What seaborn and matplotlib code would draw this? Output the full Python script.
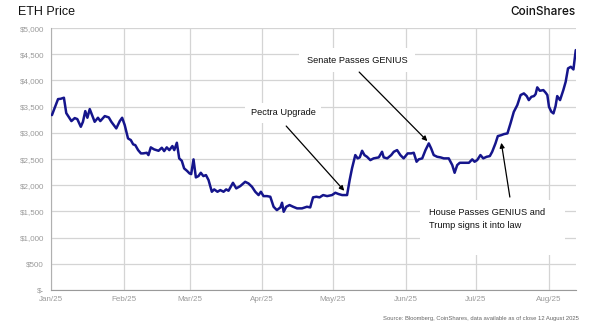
import matplotlib
matplotlib.use("Agg")
import matplotlib.pyplot as plt
import matplotlib.dates as mdates
from matplotlib.patches import Rectangle
from matplotlib.ticker import FuncFormatter, MultipleLocator
import numpy as np
import pandas as pd
import seaborn as sns

# ETH close price, 2025 (days since 1 Jan 2025, USD)
day_offset = [
    0.4, 3.0, 4.1, 5.5, 6.5, 7.5, 8.7, 10.1, 11.2, 12.7, 13.6, 14.6, 15.5, 16.5,
    18.6, 20.0, 21.0, 22.9, 24.6, 25.7, 27.8, 29.3, 30.3, 31.4, 32.8, 34.0, 35.0,
    35.9, 37.1, 38.3, 39.2, 40.8, 41.5, 42.5, 43.9, 45.8, 47.2, 48.2, 49.3, 50.4,
    51.7, 52.5, 53.6, 54.6, 55.7, 56.7, 57.9, 59.0, 59.7, 60.7, 61.7, 62.8, 63.8,
    64.9, 66.0, 67.1, 68.5, 69.5, 70.9, 72.1, 73.5, 74.6, 75.6, 76.3, 77.5, 78.9,
    80.6, 82.7, 84.1, 85.6, 87.0, 88.4, 89.4, 90.5, 92.0, 93.4, 94.8, 96.2, 97.7,
    98.4, 99.1, 100.2, 101.6, 103.1, 104.8, 106.9, 109.0, 110.4, 111.6, 113.0,
    114.4, 115.9, 117.6, 119.7, 121.1, 122.5, 124.0, 126.1, 127.2, 128.2, 129.6,
    130.6, 131.5, 132.5, 133.5, 134.6, 136.0, 137.4, 139.6, 141.0, 141.7, 143.2,
    144.9, 146.0, 147.4, 148.8, 150.2, 151.9, 153.4, 154.5, 155.7, 156.6, 158.1,
    159.5, 160.9, 161.9, 163.0, 164.5, 165.9, 167.3, 169.4, 170.9, 171.9, 173.0,
    174.1, 175.8, 178.0, 179.4, 180.4, 181.5, 182.9, 184.1, 185.5, 186.9, 187.9,
    189.3, 190.3, 191.8, 192.9, 194.4, 195.7, 197.1, 198.6, 200.0, 201.4, 202.6,
    203.5, 204.6, 205.7, 206.4, 207.1, 208.2, 209.7, 210.7, 211.4, 212.1, 213.1,
    214.0, 214.9, 215.6, 216.8, 218.2, 219.2, 220.2, 221.4, 222.5, 223.5,
]
price = [
    3339, 3644, 3650, 3670, 3377, 3307, 3225, 3282, 3263, 3116, 3211, 3415, 3288, 3454,
    3211, 3288, 3225, 3320, 3295, 3211, 3085, 3225, 3288, 3148, 2894, 2862, 2780,
    2766, 2671, 2608, 2608, 2620, 2576, 2723, 2685, 2658, 2716, 2652, 2723, 2671,
    2748, 2671, 2811, 2513, 2467, 2322, 2276, 2226, 2213, 2494, 2150, 2175, 2238,
    2175, 2194, 2099, 1876, 1921, 1876, 1908, 1876, 1921, 1895, 1950, 2047, 1940,
    1984, 2066, 2035, 1971, 1876, 1813, 1876, 1793, 1793, 1781, 1590, 1526, 1577,
    1666, 1494, 1590, 1622, 1590, 1559, 1559, 1590, 1577, 1769, 1781,
    1769, 1813, 1793, 1813, 1857, 1832, 1813, 1813, 2099, 2322, 2576,
    2513, 2532, 2658, 2576, 2543, 2480, 2513, 2532, 2639, 2532, 2513,
    2576, 2639, 2671, 2576, 2513, 2608, 2608, 2620, 2449, 2494, 2513,
    2671, 2799, 2704, 2576, 2543, 2532, 2513, 2513, 2385, 2238, 2385,
    2429, 2429, 2429, 2494, 2449, 2480, 2576, 2513, 2543, 2557, 2639,
    2799, 2938, 2957, 2976, 2990, 3180, 3400, 3530, 3721, 3753, 3702,
    3625, 3688, 3702, 3740, 3868, 3803, 3816, 3765, 3721, 3497, 3402,
    3371, 3511, 3702, 3625, 3816, 3974, 4230, 4261, 4210, 4579,
]

start = pd.Timestamp("2025-01-01")
df = pd.DataFrame({
    "date": start + pd.to_timedelta(np.array(day_offset), unit="D"),
    "price": price,
})

sns.set_style("white")
plt.rcParams["font.family"] = ["Liberation Sans", "DejaVu Sans"]

fig = plt.figure(figsize=(6.0, 3.3), dpi=100)
ax = fig.add_axes([0.085, 0.121, 0.875, 0.794])

sns.lineplot(data=df, x="date", y="price", ax=ax, color="#15158c",
             linewidth=1.8, zorder=3)

ax.set_xlim(start, start + pd.Timedelta(days=223.6))
ax.set_ylim(0, 5000)
ax.yaxis.set_major_locator(MultipleLocator(500))
ax.yaxis.set_major_formatter(
    FuncFormatter(lambda v, _: "$-" if v == 0 else f"${v:,.0f}"))
ax.xaxis.set_major_locator(mdates.MonthLocator())
ax.xaxis.set_major_formatter(mdates.DateFormatter("%b/%y"))

ax.grid(True, color="#d4d4d4", linewidth=0.9, zorder=0)
ax.set_axisbelow(True)
for side in ("top", "right"):
    ax.spines[side].set_visible(False)
ax.spines["left"].set_color("#b0b0b0")
ax.spines["bottom"].set_color("#9a9a9a")
ax.tick_params(axis="y", labelsize=5.8, colors="#9a9a9a", length=3, width=0.8,
               pad=2)
ax.tick_params(axis="x", labelsize=5.8, colors="#9a9a9a", length=0, pad=4)
ax.set_xlabel("")
ax.set_ylabel("")

# annotation boxes
box = dict(boxstyle="square,pad=0.6", fc="white", ec="none")
arrow = dict(arrowstyle="-|>", color="black", lw=0.9, mutation_scale=7,
             shrinkA=0, shrinkB=0)


def day(d):
    return start + pd.Timedelta(days=d)


ax.text(0.442, 0.676, "Pectra Upgrade", transform=ax.transAxes, fontsize=6.7,
        ha="center", va="center", color="#111111", bbox=box, zorder=4)
ax.annotate("", xy=(day(124.9), 1895), xycoords="data",
            xytext=(0.448, 0.626), textcoords="axes fraction",
            arrowprops=arrow, zorder=5)

ax.text(0.583, 0.878, "Senate Passes GENIUS", transform=ax.transAxes,
        fontsize=6.7, ha="center", va="center", color="#111111",
        bbox=dict(boxstyle="square,pad=0.85", fc="white", ec="none"), zorder=4)
ax.annotate("", xy=(day(160.3), 2843), xycoords="data",
            xytext=(0.587, 0.832), textcoords="axes fraction",
            arrowprops=arrow, zorder=5)

ax.add_patch(Rectangle((0.703, 0.134), 0.276, 0.21, transform=ax.transAxes,
                       fc="white", ec="none", zorder=2))
ax.text(0.720, 0.312, "House Passes GENIUS and\nTrump signs it into law",
        transform=ax.transAxes, fontsize=6.7, ha="left", va="top",
        color="#111111", linespacing=1.5, zorder=4)
ax.annotate("", xy=(day(191.8), 2810), xycoords="data",
            xytext=(0.874, 0.355), textcoords="axes fraction",
            arrowprops=arrow, zorder=5)

fig.text(0.030, 0.963, "ETH Price", fontsize=9, ha="left", va="center",
         color="#111111")
fig.text(0.960, 0.963, "CoinShares", fontsize=8.5, ha="right", va="center",
         color="#111111", weight="medium", family=["Inter", "DejaVu Sans"])
fig.text(0.965, 0.035,
         "Source: Bloomberg, CoinShares, data available as of close 12 August 2025",
         fontsize=4.2, ha="right", va="center", color="#666666")

fig.savefig("out.png", dpi=100, facecolor="white")
